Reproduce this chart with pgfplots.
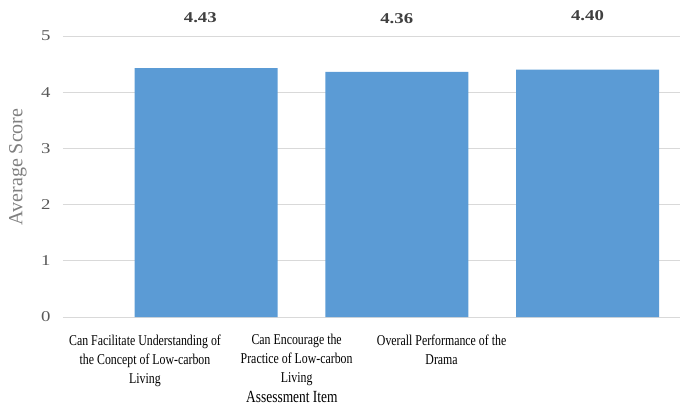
\documentclass[border=0pt]{standalone}
\usepackage{fontspec}
\setmainfont{Liberation Serif}
\newfontfamily\widefont[FakeStretch=1.25]{Liberation Serif}
\newfontfamily\narrowfont[FakeStretch=0.79]{Liberation Serif}
\usepackage{pgfplots}
\pgfplotsset{compat=1.18}

\definecolor{barblue}{HTML}{5B9BD5}
\definecolor{gridgray}{HTML}{D9D9D9}
\definecolor{tickgray}{HTML}{595959}
\definecolor{ylabgray}{HTML}{7F7F7F}
\definecolor{labdark}{HTML}{404040}

\begin{document}
\begin{tikzpicture}[x=1pt,y=1pt]
\useasboundingbox (-63,-93) rectangle (633,317);
\begin{axis}[
  at={(0,0)}, anchor=south west,
  scale only axis,
  width=617pt, height=281pt,
  xmin=-0.75, xmax=2.485,
  ymin=0, ymax=5,
  ytick={0,1,2,3,4,5},
  ymajorgrids,
  grid style={color=gridgray, line width=0.8pt},
  axis line style={draw=none},
  major tick length=0pt,
  clip=false,
  /pgf/number format/assume math mode=true,
  yticklabel style={font=\widefont\fontsize{15}{18}\selectfont, color=tickgray, xshift=-9pt},
  xtick={-0.32,0.475,1.235},
  xticklabels={
    {Can Facilitate Understanding of\\the Concept of Low-carbon\\Living},
    {Can Encourage the\\Practice of Low-carbon\\Living},
    {Overall Performance of the\\Drama}},
  xticklabel style={font=\narrowfont\fontsize{15}{19}\selectfont, align=center, anchor=north, yshift=-14pt},
  ylabel={Average Score},
  ylabel style={font=\fontsize{20}{24}\selectfont, color=ylabgray, at={(rel axis cs:0,0.534)}, anchor=center, yshift=45pt},
  xlabel={Assessment Item},
  xlabel style={font=\narrowfont\fontsize{17}{20}\selectfont, color=black, at={(rel axis cs:0.371,0)}, yshift=-80pt, anchor=center},
]
\addplot[ybar, bar width=143pt, fill=barblue, draw=none]
  coordinates {(0,4.43) (1,4.36) (2,4.40)};
\addplot[draw=none, mark=none, nodes near coords, point meta=explicit symbolic,
  nodes near coords style={anchor=center, font=\widefont\bfseries\fontsize{15}{18}\selectfont, color=labdark}]
  coordinates {(-0.03,5.32)[4.43] (1,5.31)[4.36] (2,5.365)[4.40]};
\end{axis}
\end{tikzpicture}
\end{document}
